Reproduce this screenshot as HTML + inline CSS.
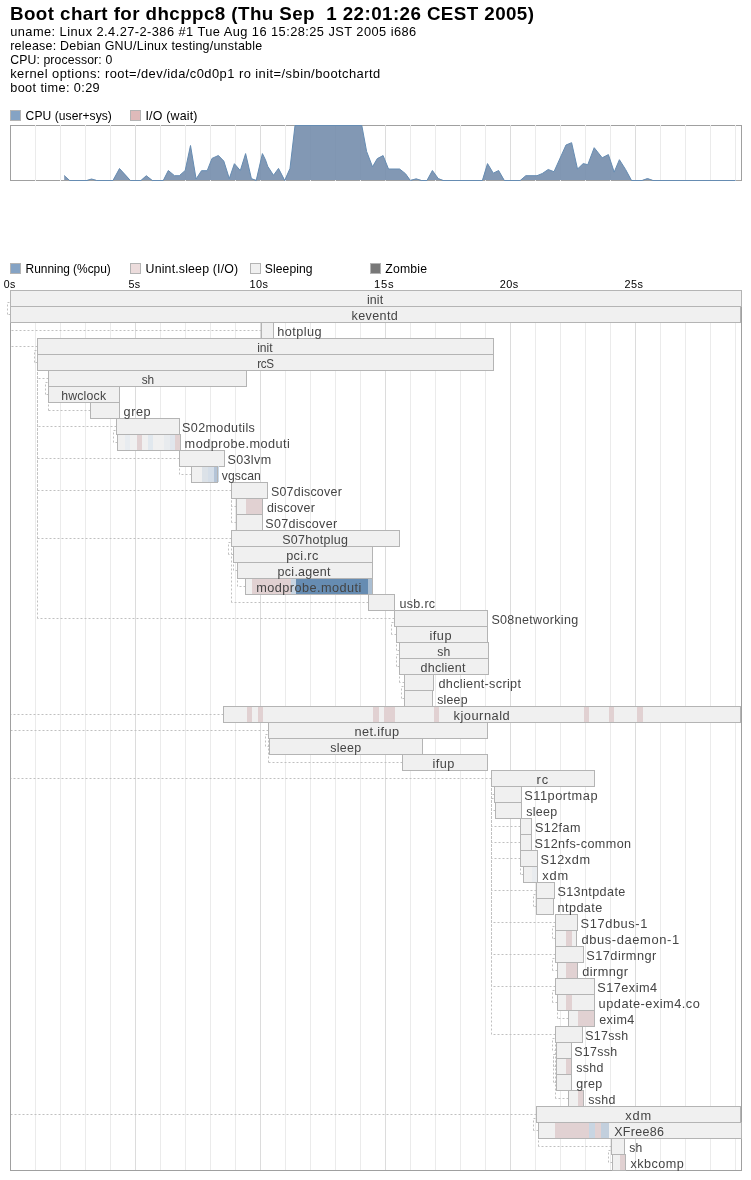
<!DOCTYPE html>
<html><head><meta charset="utf-8"><style>
html,body{margin:0;padding:0;background:#fff;overflow:hidden;}
svg{display:block;will-change:transform;}
text{font-family:"Liberation Sans",sans-serif;}
</style></head><body>
<svg width="751" height="1180" viewBox="0 0 751 1180" shape-rendering="crispEdges">
<rect width="751" height="1180" fill="#fff"/>
<text transform="translate(10.00,20.00) scale(1.0436,1)" font-size="18" font-weight="bold" fill="#000" textLength="502.10" lengthAdjust="spacing" xml:space="preserve">Boot chart for dhcppc8 (Thu Sep  1 22:01:26 CEST 2005)</text>
<text transform="translate(10.20,36.00) scale(1.0699,1)" font-size="12" fill="#000" textLength="379.49" lengthAdjust="spacing" xml:space="preserve">uname: Linux 2.4.27-2-386 #1 Tue Aug 16 15:28:25 JST 2005 i686</text>
<text transform="translate(10.20,50.00) scale(1.0389,1)" font-size="12" fill="#000" textLength="242.55" lengthAdjust="spacing" xml:space="preserve">release: Debian GNU/Linux testing/unstable</text>
<text transform="translate(10.20,64.00) scale(1.0200,1)" font-size="12" fill="#000" textLength="100.00" lengthAdjust="spacing" xml:space="preserve">CPU: processor: 0</text>
<text transform="translate(10.20,78.00) scale(1.0772,1)" font-size="12" fill="#000" textLength="343.48" lengthAdjust="spacing" xml:space="preserve">kernel options: root=/dev/ida/c0d0p1 ro init=/sbin/bootchartd</text>
<text transform="translate(10.20,92.00) scale(1.0618,1)" font-size="12" fill="#000" textLength="84.29" lengthAdjust="spacing" xml:space="preserve">boot time: 0:29</text>
<rect x="10.5" y="110.5" width="10" height="10" fill="#85a3c4" stroke="#b4b4b4"/>
<text transform="translate(25.60,120.00) scale(1.0075,1)" font-size="12" fill="#000" textLength="85.66" lengthAdjust="spacing" xml:space="preserve">CPU (user+sys)</text>
<rect x="130.5" y="110.5" width="10" height="10" fill="#dfbaba" stroke="#b4b4b4"/>
<text transform="translate(145.50,120.00) scale(1.0336,1)" font-size="12" fill="#000" textLength="50.31" lengthAdjust="spacing" xml:space="preserve">I/O (wait)</text>
<rect x="10.5" y="125.5" width="731" height="55" fill="#fff" stroke="#a0a0a0"/>
<line x1="35.5" y1="125" x2="35.5" y2="181" stroke="#ebebeb"/>
<line x1="60.5" y1="125" x2="60.5" y2="181" stroke="#ebebeb"/>
<line x1="85.5" y1="125" x2="85.5" y2="181" stroke="#ebebeb"/>
<line x1="110.5" y1="125" x2="110.5" y2="181" stroke="#ebebeb"/>
<line x1="135.5" y1="125" x2="135.5" y2="181" stroke="#dcdcdc"/>
<line x1="160.5" y1="125" x2="160.5" y2="181" stroke="#ebebeb"/>
<line x1="185.5" y1="125" x2="185.5" y2="181" stroke="#ebebeb"/>
<line x1="210.5" y1="125" x2="210.5" y2="181" stroke="#ebebeb"/>
<line x1="235.5" y1="125" x2="235.5" y2="181" stroke="#ebebeb"/>
<line x1="260.5" y1="125" x2="260.5" y2="181" stroke="#dcdcdc"/>
<line x1="285.5" y1="125" x2="285.5" y2="181" stroke="#ebebeb"/>
<line x1="310.5" y1="125" x2="310.5" y2="181" stroke="#ebebeb"/>
<line x1="335.5" y1="125" x2="335.5" y2="181" stroke="#ebebeb"/>
<line x1="360.5" y1="125" x2="360.5" y2="181" stroke="#ebebeb"/>
<line x1="385.5" y1="125" x2="385.5" y2="181" stroke="#dcdcdc"/>
<line x1="410.5" y1="125" x2="410.5" y2="181" stroke="#ebebeb"/>
<line x1="435.5" y1="125" x2="435.5" y2="181" stroke="#ebebeb"/>
<line x1="460.5" y1="125" x2="460.5" y2="181" stroke="#ebebeb"/>
<line x1="485.5" y1="125" x2="485.5" y2="181" stroke="#ebebeb"/>
<line x1="510.5" y1="125" x2="510.5" y2="181" stroke="#dcdcdc"/>
<line x1="535.5" y1="125" x2="535.5" y2="181" stroke="#ebebeb"/>
<line x1="560.5" y1="125" x2="560.5" y2="181" stroke="#ebebeb"/>
<line x1="585.5" y1="125" x2="585.5" y2="181" stroke="#ebebeb"/>
<line x1="610.5" y1="125" x2="610.5" y2="181" stroke="#ebebeb"/>
<line x1="635.5" y1="125" x2="635.5" y2="181" stroke="#dcdcdc"/>
<line x1="660.5" y1="125" x2="660.5" y2="181" stroke="#ebebeb"/>
<line x1="685.5" y1="125" x2="685.5" y2="181" stroke="#ebebeb"/>
<line x1="710.5" y1="125" x2="710.5" y2="181" stroke="#ebebeb"/>
<line x1="735.5" y1="125" x2="735.5" y2="181" stroke="#ebebeb"/>
<polygon shape-rendering="geometricPrecision" points="64.20,180.00 64.20,180.00 64.20,175.50 69.50,180.00 87.00,180.00 91.50,179.00 96.50,180.00 113.00,180.00 119.50,168.50 130.30,180.00 141.00,180.00 146.30,175.70 152.20,180.00 163.30,180.00 168.30,170.50 174.50,175.70 179.30,175.70 185.20,170.50 190.50,145.50 196.10,179.00 201.50,170.70 207.20,170.70 212.00,158.40 218.40,155.50 223.80,161.10 229.30,178.60 234.40,163.70 240.30,170.60 245.60,153.60 251.40,178.60 256.20,180.00 262.40,153.60 265.50,159.90 267.70,166.30 273.50,175.30 278.50,168.40 284.70,180.00 290.00,168.40 295.00,125.50 361.80,125.50 366.60,151.40 372.50,166.80 377.30,158.60 383.10,155.60 388.50,169.00 399.60,169.00 405.50,173.70 410.30,180.00 416.20,178.80 421.20,180.00 427.00,180.00 432.40,170.50 438.20,178.50 443.00,180.00 482.40,180.00 487.50,163.60 493.30,173.20 498.60,170.50 504.30,180.00 520.30,180.00 525.80,175.70 537.00,175.70 542.30,173.50 548.20,169.50 554.00,171.70 566.00,145.00 571.60,142.70 577.50,169.00 583.20,163.60 587.80,164.70 594.20,147.70 602.20,157.80 608.40,154.60 614.20,172.10 619.40,159.70 625.60,169.50 631.50,180.00 642.20,180.00 647.50,178.50 652.80,180.00 735.50,180.00 735.50,180.00" fill="rgba(116,141,172,0.9)" stroke="none"/>
<polyline shape-rendering="geometricPrecision" points="64.20,175.50 69.50,180.50 87.00,180.50 91.50,179.00 96.50,180.50 113.00,180.50 119.50,168.50 130.30,180.50 141.00,180.50 146.30,175.70 152.20,180.50 163.30,180.50 168.30,170.50 174.50,175.70 179.30,175.70 185.20,170.50 190.50,145.50 196.10,179.00 201.50,170.70 207.20,170.70 212.00,158.40 218.40,155.50 223.80,161.10 229.30,178.60 234.40,163.70 240.30,170.60 245.60,153.60 251.40,178.60 256.20,180.50 262.40,153.60 265.50,159.90 267.70,166.30 273.50,175.30 278.50,168.40 284.70,180.50 290.00,168.40 295.00,125.50 361.80,125.50 366.60,151.40 372.50,166.80 377.30,158.60 383.10,155.60 388.50,169.00 399.60,169.00 405.50,173.70 410.30,180.50 416.20,178.80 421.20,180.50 427.00,180.50 432.40,170.50 438.20,178.50 443.00,180.50 482.40,180.50 487.50,163.60 493.30,173.20 498.60,170.50 504.30,180.50 520.30,180.50 525.80,175.70 537.00,175.70 542.30,173.50 548.20,169.50 554.00,171.70 566.00,145.00 571.60,142.70 577.50,169.00 583.20,163.60 587.80,164.70 594.20,147.70 602.20,157.80 608.40,154.60 614.20,172.10 619.40,159.70 625.60,169.50 631.50,180.50 642.20,180.50 647.50,178.50 652.80,180.50 735.50,180.50" fill="none" stroke="#668cb2" stroke-width="1" stroke-linejoin="round"/>
<rect x="10.5" y="263.5" width="10" height="10" fill="#85a3c4" stroke="#b4b4b4"/>
<text transform="translate(25.60,273.00) scale(0.9951,1)" font-size="12" fill="#000" textLength="85.62" lengthAdjust="spacing" xml:space="preserve">Running (%cpu)</text>
<rect x="130.5" y="263.5" width="10" height="10" fill="#ecdcdc" stroke="#b4b4b4"/>
<text transform="translate(145.60,273.00) scale(1.0295,1)" font-size="12" fill="#000" textLength="89.94" lengthAdjust="spacing" xml:space="preserve">Unint.sleep (I/O)</text>
<rect x="250.5" y="263.5" width="10" height="10" fill="#f0f0f0" stroke="#b4b4b4"/>
<text transform="translate(264.80,273.00) scale(1.0117,1)" font-size="12" fill="#000" textLength="47.25" lengthAdjust="spacing" xml:space="preserve">Sleeping</text>
<rect x="370.5" y="263.5" width="10" height="10" fill="#787878" stroke="#b4b4b4"/>
<text transform="translate(385.30,273.00) scale(1.0209,1)" font-size="12" fill="#000" textLength="40.85" lengthAdjust="spacing" xml:space="preserve">Zombie</text>
<text transform="translate(3.80,287.50) scale(1.0188,1)" font-size="10.4" fill="#000" textLength="11.19" lengthAdjust="spacing" xml:space="preserve">0s</text>
<text transform="translate(128.50,287.50) scale(1.0321,1)" font-size="10.4" fill="#000" textLength="11.34" lengthAdjust="spacing" xml:space="preserve">5s</text>
<text transform="translate(249.50,287.50) scale(1.0504,1)" font-size="10.4" fill="#000" textLength="17.61" lengthAdjust="spacing" xml:space="preserve">10s</text>
<text transform="translate(374.00,287.50) scale(1.0839,1)" font-size="10.4" fill="#000" textLength="18.17" lengthAdjust="spacing" xml:space="preserve">15s</text>
<text transform="translate(499.80,287.50) scale(1.0476,1)" font-size="10.4" fill="#000" textLength="17.56" lengthAdjust="spacing" xml:space="preserve">20s</text>
<text transform="translate(624.50,287.50) scale(1.0504,1)" font-size="10.4" fill="#000" textLength="17.61" lengthAdjust="spacing" xml:space="preserve">25s</text>
<rect x="10.5" y="290.5" width="731" height="880" fill="#fff" stroke="#a0a0a0"/>
<line x1="35.5" y1="291" x2="35.5" y2="1170" stroke="#ebebeb"/>
<line x1="60.5" y1="291" x2="60.5" y2="1170" stroke="#ebebeb"/>
<line x1="85.5" y1="291" x2="85.5" y2="1170" stroke="#ebebeb"/>
<line x1="110.5" y1="291" x2="110.5" y2="1170" stroke="#ebebeb"/>
<line x1="135.5" y1="291" x2="135.5" y2="1170" stroke="#dcdcdc"/>
<line x1="160.5" y1="291" x2="160.5" y2="1170" stroke="#ebebeb"/>
<line x1="185.5" y1="291" x2="185.5" y2="1170" stroke="#ebebeb"/>
<line x1="210.5" y1="291" x2="210.5" y2="1170" stroke="#ebebeb"/>
<line x1="235.5" y1="291" x2="235.5" y2="1170" stroke="#ebebeb"/>
<line x1="260.5" y1="291" x2="260.5" y2="1170" stroke="#dcdcdc"/>
<line x1="285.5" y1="291" x2="285.5" y2="1170" stroke="#ebebeb"/>
<line x1="310.5" y1="291" x2="310.5" y2="1170" stroke="#ebebeb"/>
<line x1="335.5" y1="291" x2="335.5" y2="1170" stroke="#ebebeb"/>
<line x1="360.5" y1="291" x2="360.5" y2="1170" stroke="#ebebeb"/>
<line x1="385.5" y1="291" x2="385.5" y2="1170" stroke="#dcdcdc"/>
<line x1="410.5" y1="291" x2="410.5" y2="1170" stroke="#ebebeb"/>
<line x1="435.5" y1="291" x2="435.5" y2="1170" stroke="#ebebeb"/>
<line x1="460.5" y1="291" x2="460.5" y2="1170" stroke="#ebebeb"/>
<line x1="485.5" y1="291" x2="485.5" y2="1170" stroke="#ebebeb"/>
<line x1="510.5" y1="291" x2="510.5" y2="1170" stroke="#dcdcdc"/>
<line x1="535.5" y1="291" x2="535.5" y2="1170" stroke="#ebebeb"/>
<line x1="560.5" y1="291" x2="560.5" y2="1170" stroke="#ebebeb"/>
<line x1="585.5" y1="291" x2="585.5" y2="1170" stroke="#ebebeb"/>
<line x1="610.5" y1="291" x2="610.5" y2="1170" stroke="#ebebeb"/>
<line x1="635.5" y1="291" x2="635.5" y2="1170" stroke="#dcdcdc"/>
<line x1="660.5" y1="291" x2="660.5" y2="1170" stroke="#ebebeb"/>
<line x1="685.5" y1="291" x2="685.5" y2="1170" stroke="#ebebeb"/>
<line x1="710.5" y1="291" x2="710.5" y2="1170" stroke="#ebebeb"/>
<line x1="735.5" y1="291" x2="735.5" y2="1170" stroke="#ebebeb"/>
<g fill="none" stroke="#c0c0c0" stroke-dasharray="2,2" shape-rendering="geometricPrecision"><line x1="10.5" y1="314.5" x2="7.5" y2="314.5"/><line x1="7.5" y1="314.5" x2="7.5" y2="302.5"/><line x1="7.5" y1="302.5" x2="10.5" y2="302.5"/><line x1="261.5" y1="330.5" x2="10.5" y2="330.5"/><line x1="10.5" y1="330.5" x2="10.5" y2="322.5"/><line x1="37.5" y1="346.5" x2="10.5" y2="346.5"/><line x1="10.5" y1="346.5" x2="10.5" y2="306.5"/><line x1="37.5" y1="362.5" x2="34.5" y2="362.5"/><line x1="34.5" y1="362.5" x2="34.5" y2="350.5"/><line x1="34.5" y1="350.5" x2="37.5" y2="350.5"/><line x1="48.5" y1="378.5" x2="37.5" y2="378.5"/><line x1="37.5" y1="378.5" x2="37.5" y2="370.5"/><line x1="48.5" y1="394.5" x2="45.5" y2="394.5"/><line x1="45.5" y1="394.5" x2="45.5" y2="382.5"/><line x1="45.5" y1="382.5" x2="48.5" y2="382.5"/><line x1="90.5" y1="410.5" x2="48.5" y2="410.5"/><line x1="48.5" y1="410.5" x2="48.5" y2="386.5"/><line x1="116.5" y1="426.5" x2="37.5" y2="426.5"/><line x1="37.5" y1="426.5" x2="37.5" y2="370.5"/><line x1="117.5" y1="442.5" x2="113.5" y2="442.5"/><line x1="113.5" y1="442.5" x2="113.5" y2="430.5"/><line x1="113.5" y1="430.5" x2="116.5" y2="430.5"/><line x1="179.5" y1="458.5" x2="37.5" y2="458.5"/><line x1="37.5" y1="458.5" x2="37.5" y2="370.5"/><line x1="191.5" y1="474.5" x2="179.5" y2="474.5"/><line x1="179.5" y1="474.5" x2="179.5" y2="466.5"/><line x1="231.5" y1="490.5" x2="37.5" y2="490.5"/><line x1="37.5" y1="490.5" x2="37.5" y2="370.5"/><line x1="236.5" y1="506.5" x2="231.5" y2="506.5"/><line x1="231.5" y1="506.5" x2="231.5" y2="498.5"/><line x1="236.5" y1="522.5" x2="231.5" y2="522.5"/><line x1="231.5" y1="522.5" x2="231.5" y2="498.5"/><line x1="231.5" y1="538.5" x2="37.5" y2="538.5"/><line x1="37.5" y1="538.5" x2="37.5" y2="370.5"/><line x1="233.5" y1="554.5" x2="228.5" y2="554.5"/><line x1="228.5" y1="554.5" x2="228.5" y2="542.5"/><line x1="228.5" y1="542.5" x2="231.5" y2="542.5"/><line x1="237.5" y1="570.5" x2="233.5" y2="570.5"/><line x1="233.5" y1="570.5" x2="233.5" y2="562.5"/><line x1="245.5" y1="586.5" x2="237.5" y2="586.5"/><line x1="237.5" y1="586.5" x2="237.5" y2="578.5"/><line x1="368.5" y1="602.5" x2="231.5" y2="602.5"/><line x1="231.5" y1="602.5" x2="231.5" y2="546.5"/><line x1="394.5" y1="618.5" x2="37.5" y2="618.5"/><line x1="37.5" y1="618.5" x2="37.5" y2="370.5"/><line x1="396.5" y1="634.5" x2="391.5" y2="634.5"/><line x1="391.5" y1="634.5" x2="391.5" y2="622.5"/><line x1="391.5" y1="622.5" x2="394.5" y2="622.5"/><line x1="399.5" y1="650.5" x2="396.5" y2="650.5"/><line x1="396.5" y1="650.5" x2="396.5" y2="642.5"/><line x1="399.5" y1="666.5" x2="396.5" y2="666.5"/><line x1="396.5" y1="666.5" x2="396.5" y2="654.5"/><line x1="396.5" y1="654.5" x2="399.5" y2="654.5"/><line x1="404.5" y1="682.5" x2="399.5" y2="682.5"/><line x1="399.5" y1="682.5" x2="399.5" y2="674.5"/><line x1="404.5" y1="698.5" x2="401.5" y2="698.5"/><line x1="401.5" y1="698.5" x2="401.5" y2="686.5"/><line x1="401.5" y1="686.5" x2="404.5" y2="686.5"/><line x1="223.5" y1="714.5" x2="10.5" y2="714.5"/><line x1="10.5" y1="714.5" x2="10.5" y2="306.5"/><line x1="268.5" y1="730.5" x2="10.5" y2="730.5"/><line x1="10.5" y1="730.5" x2="10.5" y2="306.5"/><line x1="269.5" y1="746.5" x2="265.5" y2="746.5"/><line x1="265.5" y1="746.5" x2="265.5" y2="734.5"/><line x1="265.5" y1="734.5" x2="268.5" y2="734.5"/><line x1="402.5" y1="762.5" x2="268.5" y2="762.5"/><line x1="268.5" y1="762.5" x2="268.5" y2="738.5"/><line x1="491.5" y1="778.5" x2="10.5" y2="778.5"/><line x1="10.5" y1="778.5" x2="10.5" y2="306.5"/><line x1="494.5" y1="794.5" x2="491.5" y2="794.5"/><line x1="491.5" y1="794.5" x2="491.5" y2="786.5"/><line x1="495.5" y1="810.5" x2="491.5" y2="810.5"/><line x1="491.5" y1="810.5" x2="491.5" y2="798.5"/><line x1="491.5" y1="798.5" x2="494.5" y2="798.5"/><line x1="520.5" y1="826.5" x2="491.5" y2="826.5"/><line x1="491.5" y1="826.5" x2="491.5" y2="786.5"/><line x1="520.5" y1="842.5" x2="491.5" y2="842.5"/><line x1="491.5" y1="842.5" x2="491.5" y2="786.5"/><line x1="520.5" y1="858.5" x2="491.5" y2="858.5"/><line x1="491.5" y1="858.5" x2="491.5" y2="786.5"/><line x1="523.5" y1="874.5" x2="520.5" y2="874.5"/><line x1="520.5" y1="874.5" x2="520.5" y2="866.5"/><line x1="536.5" y1="890.5" x2="491.5" y2="890.5"/><line x1="491.5" y1="890.5" x2="491.5" y2="786.5"/><line x1="536.5" y1="906.5" x2="533.5" y2="906.5"/><line x1="533.5" y1="906.5" x2="533.5" y2="894.5"/><line x1="533.5" y1="894.5" x2="536.5" y2="894.5"/><line x1="555.5" y1="922.5" x2="491.5" y2="922.5"/><line x1="491.5" y1="922.5" x2="491.5" y2="786.5"/><line x1="555.5" y1="938.5" x2="552.5" y2="938.5"/><line x1="552.5" y1="938.5" x2="552.5" y2="926.5"/><line x1="552.5" y1="926.5" x2="555.5" y2="926.5"/><line x1="555.5" y1="954.5" x2="491.5" y2="954.5"/><line x1="491.5" y1="954.5" x2="491.5" y2="786.5"/><line x1="557.5" y1="970.5" x2="552.5" y2="970.5"/><line x1="552.5" y1="970.5" x2="552.5" y2="958.5"/><line x1="552.5" y1="958.5" x2="555.5" y2="958.5"/><line x1="555.5" y1="986.5" x2="491.5" y2="986.5"/><line x1="491.5" y1="986.5" x2="491.5" y2="786.5"/><line x1="557.5" y1="1002.5" x2="552.5" y2="1002.5"/><line x1="552.5" y1="1002.5" x2="552.5" y2="990.5"/><line x1="552.5" y1="990.5" x2="555.5" y2="990.5"/><line x1="568.5" y1="1018.5" x2="557.5" y2="1018.5"/><line x1="557.5" y1="1018.5" x2="557.5" y2="1010.5"/><line x1="555.5" y1="1034.5" x2="491.5" y2="1034.5"/><line x1="491.5" y1="1034.5" x2="491.5" y2="786.5"/><line x1="556.5" y1="1050.5" x2="552.5" y2="1050.5"/><line x1="552.5" y1="1050.5" x2="552.5" y2="1038.5"/><line x1="552.5" y1="1038.5" x2="555.5" y2="1038.5"/><line x1="556.5" y1="1066.5" x2="553.5" y2="1066.5"/><line x1="553.5" y1="1066.5" x2="553.5" y2="1054.5"/><line x1="553.5" y1="1054.5" x2="556.5" y2="1054.5"/><line x1="556.5" y1="1082.5" x2="553.5" y2="1082.5"/><line x1="553.5" y1="1082.5" x2="553.5" y2="1054.5"/><line x1="553.5" y1="1054.5" x2="556.5" y2="1054.5"/><line x1="568.5" y1="1098.5" x2="555.5" y2="1098.5"/><line x1="555.5" y1="1098.5" x2="555.5" y2="1042.5"/><line x1="536.5" y1="1114.5" x2="10.5" y2="1114.5"/><line x1="10.5" y1="1114.5" x2="10.5" y2="306.5"/><line x1="538.5" y1="1130.5" x2="533.5" y2="1130.5"/><line x1="533.5" y1="1130.5" x2="533.5" y2="1118.5"/><line x1="533.5" y1="1118.5" x2="536.5" y2="1118.5"/><line x1="611.5" y1="1146.5" x2="538.5" y2="1146.5"/><line x1="538.5" y1="1146.5" x2="538.5" y2="1138.5"/><line x1="612.5" y1="1162.5" x2="608.5" y2="1162.5"/><line x1="608.5" y1="1162.5" x2="608.5" y2="1150.5"/><line x1="608.5" y1="1150.5" x2="611.5" y2="1150.5"/></g>
<rect x="10.5" y="290.5" width="731" height="880" fill="none" stroke="#a0a0a0"/>
<rect x="10.5" y="290.5" width="731" height="16" fill="#f0f0f0" stroke="#b4b4b4"/>
<rect x="10.5" y="306.5" width="730" height="16" fill="#f0f0f0" stroke="#b4b4b4"/>
<rect x="261.5" y="322.5" width="12" height="16" fill="#f0f0f0" stroke="#b4b4b4"/>
<rect x="37.5" y="338.5" width="456" height="16" fill="#f0f0f0" stroke="#b4b4b4"/>
<rect x="37.5" y="354.5" width="456" height="16" fill="#f0f0f0" stroke="#b4b4b4"/>
<rect x="48.5" y="370.5" width="198" height="16" fill="#f0f0f0" stroke="#b4b4b4"/>
<rect x="48.5" y="386.5" width="71" height="16" fill="#f0f0f0" stroke="#b4b4b4"/>
<rect x="90.5" y="402.5" width="29" height="16" fill="#f0f0f0" stroke="#b4b4b4"/>
<rect x="116.5" y="418.5" width="63" height="16" fill="#f0f0f0" stroke="#b4b4b4"/>
<rect x="117.5" y="434.5" width="63" height="16" fill="#f0f0f0" stroke="#b4b4b4"/>
<rect x="125" y="435" width="5" height="15" fill="#e8ecf0"/>
<rect x="137" y="435" width="5" height="15" fill="#e1d1d2"/>
<rect x="148" y="435" width="5" height="15" fill="#e1e8ee"/>
<rect x="164" y="435" width="6" height="15" fill="#e8ebee"/>
<rect x="170" y="435" width="5" height="15" fill="#e1e6ed"/>
<rect x="175" y="435" width="5" height="15" fill="#e1d1d2"/>
<rect x="179.5" y="450.5" width="45" height="16" fill="#f0f0f0" stroke="#b4b4b4"/>
<rect x="191.5" y="466.5" width="26" height="16" fill="#f0f0f0" stroke="#b4b4b4"/>
<rect x="202" y="467" width="6" height="15" fill="#dce2e8"/>
<rect x="208" y="467" width="6" height="15" fill="#d5dee8"/>
<rect x="214" y="467" width="3" height="15" fill="#b4c4d7"/>
<rect x="231.5" y="482.5" width="36" height="16" fill="#f0f0f0" stroke="#b4b4b4"/>
<rect x="236.5" y="498.5" width="26" height="16" fill="#f0f0f0" stroke="#b4b4b4"/>
<rect x="246" y="499" width="16" height="15" fill="#e1d1d2"/>
<rect x="236.5" y="514.5" width="26" height="16" fill="#f0f0f0" stroke="#b4b4b4"/>
<rect x="231.5" y="530.5" width="168" height="16" fill="#f0f0f0" stroke="#b4b4b4"/>
<rect x="233.5" y="546.5" width="139" height="16" fill="#f0f0f0" stroke="#b4b4b4"/>
<rect x="237.5" y="562.5" width="135" height="16" fill="#f0f0f0" stroke="#b4b4b4"/>
<rect x="245.5" y="578.5" width="127" height="16" fill="#f0f0f0" stroke="#b4b4b4"/>
<rect x="252" y="579" width="39" height="15" fill="#e1d1d2"/>
<rect x="291" y="579" width="5" height="15" fill="#c8d5e2"/>
<rect x="296" y="579" width="72" height="15" fill="#668cb2"/>
<rect x="368" y="579" width="4" height="15" fill="#aabed2"/>
<rect x="368.5" y="594.5" width="26" height="16" fill="#f0f0f0" stroke="#b4b4b4"/>
<rect x="394.5" y="610.5" width="93" height="16" fill="#f0f0f0" stroke="#b4b4b4"/>
<rect x="396.5" y="626.5" width="91" height="16" fill="#f0f0f0" stroke="#b4b4b4"/>
<rect x="399.5" y="642.5" width="89" height="16" fill="#f0f0f0" stroke="#b4b4b4"/>
<rect x="399.5" y="658.5" width="89" height="16" fill="#f0f0f0" stroke="#b4b4b4"/>
<rect x="404.5" y="674.5" width="29" height="16" fill="#f0f0f0" stroke="#b4b4b4"/>
<rect x="404.5" y="690.5" width="28" height="16" fill="#f0f0f0" stroke="#b4b4b4"/>
<rect x="223.5" y="706.5" width="517" height="16" fill="#f0f0f0" stroke="#b4b4b4"/>
<rect x="247" y="707" width="5" height="15" fill="#e1d1d2"/>
<rect x="258" y="707" width="5" height="15" fill="#e1d1d2"/>
<rect x="373" y="707" width="6" height="15" fill="#e1d1d2"/>
<rect x="384" y="707" width="11" height="15" fill="#e1d1d2"/>
<rect x="434" y="707" width="5" height="15" fill="#e1d1d2"/>
<rect x="584" y="707" width="5" height="15" fill="#e1d1d2"/>
<rect x="609" y="707" width="5" height="15" fill="#e1d1d2"/>
<rect x="637" y="707" width="6" height="15" fill="#e1d1d2"/>
<rect x="268.5" y="722.5" width="219" height="16" fill="#f0f0f0" stroke="#b4b4b4"/>
<rect x="269.5" y="738.5" width="153" height="16" fill="#f0f0f0" stroke="#b4b4b4"/>
<rect x="402.5" y="754.5" width="85" height="16" fill="#f0f0f0" stroke="#b4b4b4"/>
<rect x="491.5" y="770.5" width="103" height="16" fill="#f0f0f0" stroke="#b4b4b4"/>
<rect x="494.5" y="786.5" width="27" height="16" fill="#f0f0f0" stroke="#b4b4b4"/>
<rect x="495.5" y="802.5" width="26" height="16" fill="#f0f0f0" stroke="#b4b4b4"/>
<rect x="520.5" y="818.5" width="11" height="16" fill="#f0f0f0" stroke="#b4b4b4"/>
<rect x="520.5" y="834.5" width="11" height="16" fill="#f0f0f0" stroke="#b4b4b4"/>
<rect x="520.5" y="850.5" width="17" height="16" fill="#f0f0f0" stroke="#b4b4b4"/>
<rect x="523.5" y="866.5" width="14" height="16" fill="#f0f0f0" stroke="#b4b4b4"/>
<rect x="532" y="867" width="5" height="15" fill="#e9ecef"/>
<rect x="536.5" y="882.5" width="18" height="16" fill="#f0f0f0" stroke="#b4b4b4"/>
<rect x="536.5" y="898.5" width="17" height="16" fill="#f0f0f0" stroke="#b4b4b4"/>
<rect x="555.5" y="914.5" width="22" height="16" fill="#f0f0f0" stroke="#b4b4b4"/>
<rect x="555.5" y="930.5" width="21" height="16" fill="#f0f0f0" stroke="#b4b4b4"/>
<rect x="566" y="931" width="6" height="15" fill="#e1d1d2"/>
<rect x="555.5" y="946.5" width="28" height="16" fill="#f0f0f0" stroke="#b4b4b4"/>
<rect x="557.5" y="962.5" width="20" height="16" fill="#f0f0f0" stroke="#b4b4b4"/>
<rect x="566" y="963" width="11" height="15" fill="#e1d1d2"/>
<rect x="555.5" y="978.5" width="39" height="16" fill="#f0f0f0" stroke="#b4b4b4"/>
<rect x="557.5" y="994.5" width="37" height="16" fill="#f0f0f0" stroke="#b4b4b4"/>
<rect x="566" y="995" width="6" height="15" fill="#e1d1d2"/>
<rect x="568.5" y="1010.5" width="26" height="16" fill="#f0f0f0" stroke="#b4b4b4"/>
<rect x="578" y="1011" width="16" height="15" fill="#e1d1d2"/>
<rect x="555.5" y="1026.5" width="27" height="16" fill="#f0f0f0" stroke="#b4b4b4"/>
<rect x="556.5" y="1042.5" width="15" height="16" fill="#f0f0f0" stroke="#b4b4b4"/>
<rect x="556.5" y="1058.5" width="15" height="16" fill="#f0f0f0" stroke="#b4b4b4"/>
<rect x="566" y="1059" width="5" height="15" fill="#e1d1d2"/>
<rect x="556.5" y="1074.5" width="15" height="16" fill="#f0f0f0" stroke="#b4b4b4"/>
<rect x="568.5" y="1090.5" width="15" height="16" fill="#f0f0f0" stroke="#b4b4b4"/>
<rect x="578" y="1091" width="5" height="15" fill="#e1d1d2"/>
<rect x="536.5" y="1106.5" width="204" height="16" fill="#f0f0f0" stroke="#b4b4b4"/>
<rect x="538.5" y="1122.5" width="203" height="16" fill="#f0f0f0" stroke="#b4b4b4"/>
<rect x="555" y="1123" width="34" height="15" fill="#e1d1d2"/>
<rect x="589" y="1123" width="6" height="15" fill="#c8d5e2"/>
<rect x="595" y="1123" width="6" height="15" fill="#e1d1d2"/>
<rect x="601" y="1123" width="8" height="15" fill="#c2cfdd"/>
<rect x="611.5" y="1138.5" width="13" height="16" fill="#f0f0f0" stroke="#b4b4b4"/>
<rect x="612.5" y="1154.5" width="13" height="16" fill="#f0f0f0" stroke="#b4b4b4"/>
<rect x="620" y="1155" width="5" height="15" fill="#e1d1d2"/>
<rect x="218" y="466" width="1" height="16" fill="#c9d8e7"/>
<text transform="translate(366.90,304.00) scale(1.0321,1)" font-size="12" fill="#444444" textLength="15.83" lengthAdjust="spacing" xml:space="preserve">init</text>
<text transform="translate(351.62,320.00) scale(1.0489,1)" font-size="12" fill="#444444" textLength="44.08" lengthAdjust="spacing" xml:space="preserve">keventd</text>
<text transform="translate(277.28,336.00) scale(1.0608,1)" font-size="12" fill="#444444" textLength="41.76" lengthAdjust="spacing" xml:space="preserve">hotplug</text>
<text transform="translate(257.18,352.00) scale(1.0052,1)" font-size="12" fill="#444444" textLength="15.42" lengthAdjust="spacing" xml:space="preserve">init</text>
<text transform="translate(257.18,368.00) scale(0.9706,1)" font-size="12" fill="#444444" textLength="17.47" lengthAdjust="spacing" xml:space="preserve">rcS</text>
<text transform="translate(141.74,384.00) scale(0.9892,1)" font-size="12" fill="#444444" textLength="12.54" lengthAdjust="spacing" xml:space="preserve">sh</text>
<text transform="translate(61.18,400.00) scale(1.0257,1)" font-size="12" fill="#444444" textLength="43.77" lengthAdjust="spacing" xml:space="preserve">hwclock</text>
<text transform="translate(123.62,416.00) scale(1.0583,1)" font-size="12" fill="#444444" textLength="25.42" lengthAdjust="spacing" xml:space="preserve">grep</text>
<text transform="translate(182.06,432.00) scale(1.0500,1)" font-size="12" fill="#444444" textLength="69.33" lengthAdjust="spacing" xml:space="preserve">S02modutils</text>
<text transform="translate(184.62,448.00) scale(1.0616,1)" font-size="12" fill="#444444" textLength="99.14" lengthAdjust="spacing" xml:space="preserve">modprobe.moduti</text>
<text transform="translate(227.40,464.00) scale(1.0455,1)" font-size="12" fill="#444444" textLength="41.84" lengthAdjust="spacing" xml:space="preserve">S03lvm</text>
<text transform="translate(221.74,480.00) scale(1.0136,1)" font-size="12" fill="#444444" textLength="38.54" lengthAdjust="spacing" xml:space="preserve">vgscan</text>
<text transform="translate(270.90,496.00) scale(1.0362,1)" font-size="12" fill="#444444" textLength="68.42" lengthAdjust="spacing" xml:space="preserve">S07discover</text>
<text transform="translate(266.90,512.00) scale(1.0354,1)" font-size="12" fill="#444444" textLength="46.26" lengthAdjust="spacing" xml:space="preserve">discover</text>
<text transform="translate(265.28,528.00) scale(1.0427,1)" font-size="12" fill="#444444" textLength="68.86" lengthAdjust="spacing" xml:space="preserve">S07discover</text>
<text transform="translate(282.18,544.00) scale(1.0418,1)" font-size="12" fill="#444444" textLength="63.26" lengthAdjust="spacing" xml:space="preserve">S07hotplug</text>
<text transform="translate(286.18,560.00) scale(1.0585,1)" font-size="12" fill="#444444" textLength="30.35" lengthAdjust="spacing" xml:space="preserve">pci.rc</text>
<text transform="translate(277.62,576.00) scale(1.0422,1)" font-size="12" fill="#444444" textLength="50.76" lengthAdjust="spacing" xml:space="preserve">pci.agent</text>
<text transform="translate(256.18,592.00) scale(1.0610,1)" font-size="12" fill="#444444" textLength="99.08" lengthAdjust="spacing" xml:space="preserve">modprobe.moduti</text>
<text transform="translate(399.46,608.00) scale(1.0449,1)" font-size="12" fill="#444444" textLength="34.15" lengthAdjust="spacing" xml:space="preserve">usb.rc</text>
<text transform="translate(491.40,624.00) scale(1.0457,1)" font-size="12" fill="#444444" textLength="83.01" lengthAdjust="spacing" xml:space="preserve">S08networking</text>
<text transform="translate(429.62,640.00) scale(1.0639,1)" font-size="12" fill="#444444" textLength="20.58" lengthAdjust="spacing" xml:space="preserve">ifup</text>
<text transform="translate(437.18,656.00) scale(1.0175,1)" font-size="12" fill="#444444" textLength="12.89" lengthAdjust="spacing" xml:space="preserve">sh</text>
<text transform="translate(420.62,672.00) scale(1.0419,1)" font-size="12" fill="#444444" textLength="43.09" lengthAdjust="spacing" xml:space="preserve">dhclient</text>
<text transform="translate(438.46,688.00) scale(1.0557,1)" font-size="12" fill="#444444" textLength="78.15" lengthAdjust="spacing" xml:space="preserve">dhclient-script</text>
<text transform="translate(437.18,704.00) scale(1.0284,1)" font-size="12" fill="#444444" textLength="29.50" lengthAdjust="spacing" xml:space="preserve">sleep</text>
<text transform="translate(453.62,720.00) scale(1.0726,1)" font-size="12" fill="#444444" textLength="52.23" lengthAdjust="spacing" xml:space="preserve">kjournald</text>
<text transform="translate(354.40,736.00) scale(1.0654,1)" font-size="12" fill="#444444" textLength="41.94" lengthAdjust="spacing" xml:space="preserve">net.ifup</text>
<text transform="translate(330.18,752.00) scale(1.0379,1)" font-size="12" fill="#444444" textLength="29.77" lengthAdjust="spacing" xml:space="preserve">sleep</text>
<text transform="translate(432.40,768.00) scale(1.0639,1)" font-size="12" fill="#444444" textLength="20.58" lengthAdjust="spacing" xml:space="preserve">ifup</text>
<text transform="translate(536.62,784.00) scale(1.0707,1)" font-size="12" fill="#444444" textLength="10.70" lengthAdjust="spacing" xml:space="preserve">rc</text>
<text transform="translate(524.28,800.00) scale(1.0657,1)" font-size="12" fill="#444444" textLength="68.72" lengthAdjust="spacing" xml:space="preserve">S11portmap</text>
<text transform="translate(526.18,816.00) scale(1.0379,1)" font-size="12" fill="#444444" textLength="29.77" lengthAdjust="spacing" xml:space="preserve">sleep</text>
<text transform="translate(534.96,832.00) scale(1.0484,1)" font-size="12" fill="#444444" textLength="43.36" lengthAdjust="spacing" xml:space="preserve">S12fam</text>
<text transform="translate(534.40,848.00) scale(1.0523,1)" font-size="12" fill="#444444" textLength="91.94" lengthAdjust="spacing" xml:space="preserve">S12nfs-common</text>
<text transform="translate(540.40,864.00) scale(1.0623,1)" font-size="12" fill="#444444" textLength="46.77" lengthAdjust="spacing" xml:space="preserve">S12xdm</text>
<text transform="translate(542.18,880.00) scale(1.0689,1)" font-size="12" fill="#444444" textLength="24.23" lengthAdjust="spacing" xml:space="preserve">xdm</text>
<text transform="translate(557.40,896.00) scale(1.0517,1)" font-size="12" fill="#444444" textLength="64.56" lengthAdjust="spacing" xml:space="preserve">S13ntpdate</text>
<text transform="translate(557.62,912.00) scale(1.0564,1)" font-size="12" fill="#444444" textLength="42.29" lengthAdjust="spacing" xml:space="preserve">ntpdate</text>
<text transform="translate(580.62,928.00) scale(1.0718,1)" font-size="12" fill="#444444" textLength="62.21" lengthAdjust="spacing" xml:space="preserve">S17dbus-1</text>
<text transform="translate(581.40,944.00) scale(1.0784,1)" font-size="12" fill="#444444" textLength="90.64" lengthAdjust="spacing" xml:space="preserve">dbus-daemon-1</text>
<text transform="translate(586.28,960.00) scale(1.0625,1)" font-size="12" fill="#444444" textLength="65.90" lengthAdjust="spacing" xml:space="preserve">S17dirmngr</text>
<text transform="translate(582.18,976.00) scale(1.0623,1)" font-size="12" fill="#444444" textLength="43.21" lengthAdjust="spacing" xml:space="preserve">dirmngr</text>
<text transform="translate(597.28,992.00) scale(1.0586,1)" font-size="12" fill="#444444" textLength="56.49" lengthAdjust="spacing" xml:space="preserve">S17exim4</text>
<text transform="translate(598.62,1008.00) scale(1.0683,1)" font-size="12" fill="#444444" textLength="94.77" lengthAdjust="spacing" xml:space="preserve">update-exim4.co</text>
<text transform="translate(599.18,1024.00) scale(1.0475,1)" font-size="12" fill="#444444" textLength="33.53" lengthAdjust="spacing" xml:space="preserve">exim4</text>
<text transform="translate(585.28,1040.00) scale(1.0341,1)" font-size="12" fill="#444444" textLength="41.39" lengthAdjust="spacing" xml:space="preserve">S17ssh</text>
<text transform="translate(574.28,1056.00) scale(1.0341,1)" font-size="12" fill="#444444" textLength="41.39" lengthAdjust="spacing" xml:space="preserve">S17ssh</text>
<text transform="translate(576.18,1072.00) scale(1.0367,1)" font-size="12" fill="#444444" textLength="26.28" lengthAdjust="spacing" xml:space="preserve">sshd</text>
<text transform="translate(576.18,1088.00) scale(1.0429,1)" font-size="12" fill="#444444" textLength="25.05" lengthAdjust="spacing" xml:space="preserve">grep</text>
<text transform="translate(588.18,1104.00) scale(1.0367,1)" font-size="12" fill="#444444" textLength="26.28" lengthAdjust="spacing" xml:space="preserve">sshd</text>
<text transform="translate(625.18,1120.00) scale(1.0689,1)" font-size="12" fill="#444444" textLength="24.23" lengthAdjust="spacing" xml:space="preserve">xdm</text>
<text transform="translate(614.18,1136.00) scale(1.0412,1)" font-size="12" fill="#444444" textLength="47.92" lengthAdjust="spacing" xml:space="preserve">XFree86</text>
<text transform="translate(629.18,1152.00) scale(1.0112,1)" font-size="12" fill="#444444" textLength="12.82" lengthAdjust="spacing" xml:space="preserve">sh</text>
<text transform="translate(630.46,1168.00) scale(1.0546,1)" font-size="12" fill="#444444" textLength="50.64" lengthAdjust="spacing" xml:space="preserve">xkbcomp</text>
</svg>
</body></html>
